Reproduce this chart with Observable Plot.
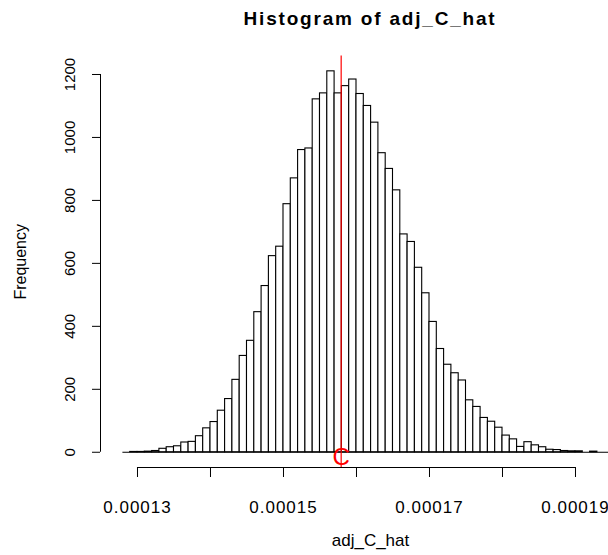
<!DOCTYPE html>
<html>
<head>
<meta charset="utf-8">
<script src="https://cdn.jsdelivr.net/npm/d3@7"></script>
<script src="https://cdn.jsdelivr.net/npm/@observablehq/plot@0.6"></script>
<style>
  body { margin: 0; background: #fff; font-family: "Liberation Sans", Arial, sans-serif; overflow: hidden; }
  #title { height: 40px; width: 608px; box-sizing: border-box; padding-left: 132px; text-align: center;
           line-height: 38px; font-weight: bold; font-size: 19px; letter-spacing: 1.8px; color: #000; }
  g[aria-label="x-axis tick label"] text { letter-spacing: 1px; }
  g[aria-label="xlab"] text { letter-spacing: 1px; }
</style>
</head>
<body>
<div id="title">Histogram of adj_C_hat</div>
<div id="chart"></div>
<script>
// histogram counts per bin (bin width 1e-6, first bin starts at 0.000128)
const counts = [0,1,1,2,4,11,16,19,31,33,51,76,96,132,169,230,306,354,445,528,
  623,653,788,870,960,965,1121,1140,1210,1140,1163,1184,1138,1100,1047,950,900,832,692,668,
  586,505,414,328,278,251,228,165,144,109,97,78,53,41,17,32,22,16,8,7,4,3,3,0,2,0,0];
const binStart = 0.000128;
const binWidth = 0.000001;
const xTicks = [0.00013, 0.00014, 0.00015, 0.00016, 0.00017, 0.00018, 0.00019];
const xTickLabels = ["0.00013", "", "0.00015", "", "0.00017", "", "0.00019"];
const yTicks = [0, 200, 400, 600, 800, 1000, 1200];
const cValue = 0.0001579;

const bins = counts.map((n, i) => ({x1: binStart + i * binWidth, x2: binStart + (i + 1) * binWidth, n}));
const xDomain = [0.000124932, 0.000194521];
const yDomain = [-48.4, 1258.4];

const chart = Plot.plot({
  width: 608, height: 515,
  marginLeft: 100, marginRight: 0, marginTop: 15.6, marginBottom: 88,
  style: {fontFamily: "Liberation Sans, Arial, sans-serif", background: "white", color: "black"},
  x: {domain: xDomain},
  y: {domain: yDomain},
  marks: [
    Plot.rect(bins.filter(d => d.n > 0), {x1: "x1", x2: "x2", y1: 0, y2: "n", fill: "white", stroke: "black", strokeWidth: 1.1, clip: true}),
    Plot.ruleY([0], {x1: bins[0].x1, x2: bins[bins.length - 1].x2, stroke: "black", strokeWidth: 1.1, clip: true}),
    Plot.ruleX([cValue], {stroke: "red", strokeWidth: 1.2}),
    Plot.text([cValue], {x: d => d, y: 0, text: () => "C", fill: "red", fontSize: 24, dy: 5.5, lineAnchor: "middle"}),
    // y axis
    Plot.ruleX([xDomain[0]], {y1: yTicks[0], y2: yTicks[yTicks.length - 1], stroke: "black"}),
    Plot.axisY({ticks: yTicks, tickSize: 8, tickFormat: () => "", label: null}),
    Plot.text(yTicks, {y: d => d, text: d => String(d), frameAnchor: "left", rotate: -90, dx: -30,
      lineAnchor: "middle", textAnchor: "middle", fontSize: 15}),
    Plot.text(["Frequency"], {frameAnchor: "left", rotate: -90, dx: -80, lineAnchor: "middle", textAnchor: "middle", fontSize: 16}),
    // x axis
    Plot.ruleY([yDomain[0]], {x1: xTicks[0], x2: xTicks[xTicks.length - 1], stroke: "black"}),
    Plot.axisX({ticks: xTicks, tickSize: 10, tickPadding: 23, fontSize: 17, label: null,
      tickFormat: d => xTickLabels[xTicks.indexOf(d)]}),
    Plot.text(["adj_C_hat"], {frameAnchor: "bottom", dx: 16, dy: 73, lineAnchor: "middle", fontSize: 17, ariaLabel: "xlab"})
  ]
});
document.getElementById("chart").appendChild(chart);
</script>
</body>
</html>
